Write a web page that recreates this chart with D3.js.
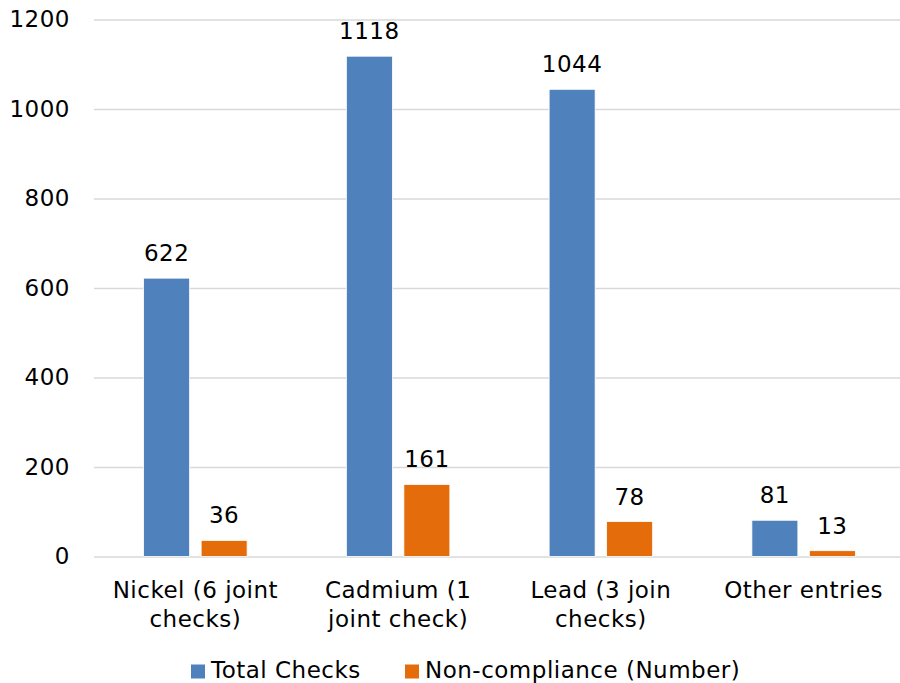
<!DOCTYPE html>
<html>
<head>
<meta charset="utf-8">
<script src="https://cdn.jsdelivr.net/npm/d3@7"></script>
<style>
  html, body { margin: 0; padding: 0; background: #fff; overflow: hidden; }
  svg { display: block; font-family: Verdana, "DejaVu Sans", sans-serif; letter-spacing: 0.5px; }
</style>
</head>
<body>
<svg id="chart" width="900" height="683"></svg>
<script>
const categories = [
  "Nickel (6 joint checks)",
  "Cadmium (1 joint check)",
  "Lead (3 join checks)",
  "Other entries"
];
const seriesNames = ["Total Checks", "Non-compliance (Number)"];
const totalChecks = [622, 1118, 1044, 81];
const nonCompliance = [36, 161, 78, 13];
const yTicks = [0, 200, 400, 600, 800, 1000, 1200];
const colors = ["#4F81BD", "#E46C0A"];

const svg = d3.select("#chart");
const W = 900, H = 683;
// plot area runs slightly past the right edge of the canvas
const margin = { left: 94, right: -5, top: 19.5, bottom: 126.5 };
const fontSize = 23;

const x = d3.scaleBand()
  .domain(categories)
  .range([margin.left, W - margin.right])
  .paddingInner(0)
  .paddingOuter(0);

const inner = d3.scaleBand()
  .domain(seriesNames)
  .range([0, x.bandwidth()])
  .paddingInner(0.2)
  .paddingOuter(0.863);

const y = d3.scaleLinear()
  .domain([0, 1200])
  .range([H - margin.bottom, margin.top]);

// horizontal gridlines
const yAxis = d3.axisLeft(y)
  .tickValues(yTicks)
  .tickSize(-(W - margin.left - margin.right))
  .tickPadding(24)
  .tickFormat(d3.format("d"));

const gy = svg.append("g")
  .attr("transform", `translate(${margin.left},0)`)
  .call(yAxis);
gy.select(".domain").remove();
gy.selectAll(".tick line").attr("stroke", "#d9d9d9").attr("stroke-width", 1.3);
gy.selectAll(".tick text")
  .attr("font-size", fontSize)
  .attr("fill", "#000")
  .attr("font-family", "Verdana, 'DejaVu Sans', sans-serif");

const data = categories.map((c, i) => ({
  cat: c,
  vals: [
    { s: seriesNames[0], v: totalChecks[i], c: colors[0] },
    { s: seriesNames[1], v: nonCompliance[i], c: colors[1] }
  ]
}));

const groups = svg.append("g").selectAll("g")
  .data(data)
  .join("g")
  .attr("transform", d => `translate(${x(d.cat)},0)`);

groups.selectAll("rect")
  .data(d => d.vals)
  .join("rect")
  .attr("x", d => inner(d.s))
  .attr("width", inner.bandwidth())
  .attr("y", d => y(d.v))
  .attr("height", d => y(0) - y(d.v))
  .attr("fill", d => d.c)
  .attr("stroke", "#ffffff")
  .attr("stroke-width", 0.8);

groups.selectAll("text.val")
  .data(d => d.vals)
  .join("text")
  .attr("class", "val")
  .attr("x", d => inner(d.s) + inner.bandwidth() / 2)
  .attr("y", d => y(d.v) - 17)
  .attr("text-anchor", "middle")
  .attr("font-size", fontSize)
  .attr("fill", "#000")
  .text(d => d.v);

// category axis labels, wrapped to the band width
const xl = svg.append("g");
categories.forEach(c => {
  const cx = x(c) + x.bandwidth() / 2;
  const t = xl.append("text")
    .attr("x", cx)
    .attr("y", 598)
    .attr("text-anchor", "middle")
    .attr("font-size", fontSize)
    .attr("fill", "#000");
  const words = c.split(" ");
  let line = [];
  let tspan = t.append("tspan").attr("x", cx).attr("dy", 0);
  words.forEach(w => {
    line.push(w);
    tspan.text(line.join(" "));
    if (tspan.node().getComputedTextLength() > 185 && line.length > 1) {
      line.pop();
      tspan.text(line.join(" "));
      line = [w];
      tspan = t.append("tspan")
        .attr("x", cx)
        .attr("dy", 29)
        .text(w);
    }
  });
});

// legend
const legend = svg.append("g");
const legendItems = [
  { name: seriesNames[0], color: colors[0], x: 191 },
  { name: seriesNames[1], color: colors[1], x: 405 }
];
legendItems.forEach(it => {
  legend.append("rect")
    .attr("x", it.x).attr("y", 664.5)
    .attr("width", 14).attr("height", 14)
    .attr("fill", it.color);
  legend.append("text")
    .attr("x", it.x + 20).attr("y", 678)
    .attr("font-size", fontSize)
    .attr("fill", "#000")
    .text(it.name);
});
</script>
</body>
</html>
